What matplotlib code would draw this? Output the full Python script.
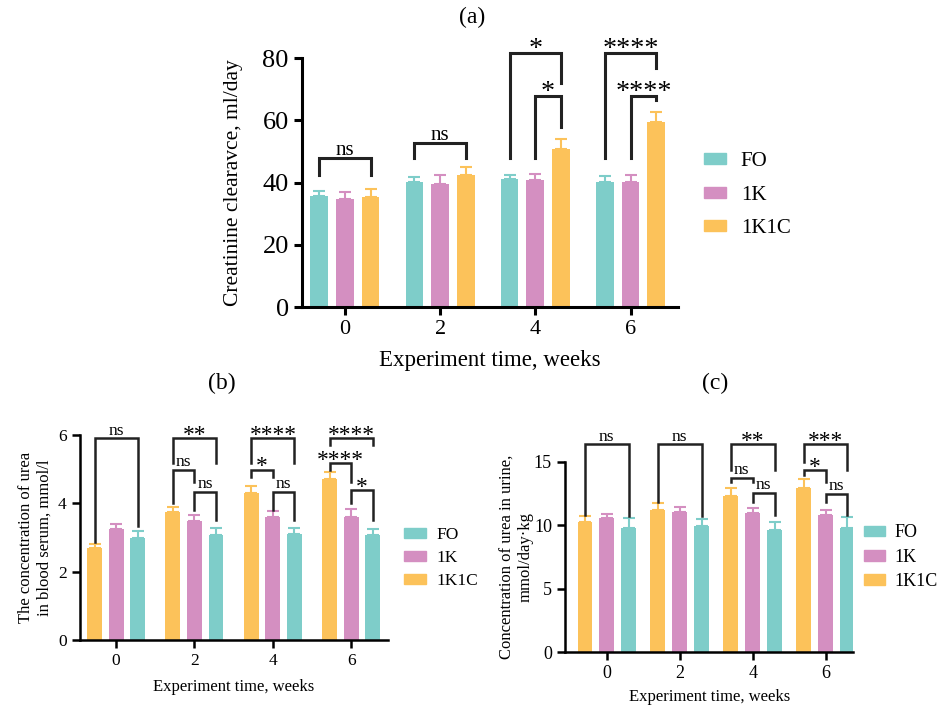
import matplotlib
matplotlib.use("Agg")
import matplotlib.pyplot as plt
from matplotlib.patches import Patch
import numpy as np

plt.rcParams['font.family'] = ['Liberation Serif', 'DejaVu Serif']

weeks = ['0', '2', '4', '6']
groups = ['FO', '1K', '1K1C']
colors = {'FO': '#7ecdc9', '1K': '#d48fc1', '1K1C': '#fcc25a'}

# (a) creatinine clearance
clear_mean = {'FO': [35.8, 40.2, 41.1, 40.1],
              '1K': [34.8, 39.7, 40.7, 40.1],
              '1K1C': [35.3, 42.3, 50.9, 59.4]}
clear_err = {'FO': [1.6, 1.7, 1.4, 2.0],
             '1K': [2.3, 2.7, 2.2, 2.4],
             '1K1C': [2.6, 2.6, 3.0, 3.2]}

# (b) urea in blood serum
serum_mean = {'1K1C': [2.70, 3.73, 4.29, 4.71],
              '1K': [3.24, 3.48, 3.59, 3.61],
              'FO': [2.99, 3.07, 3.09, 3.06]}
serum_err = {'1K1C': [0.11, 0.15, 0.20, 0.20],
             '1K': [0.15, 0.18, 0.18, 0.22],
             'FO': [0.20, 0.20, 0.18, 0.18]}

# (c) urea in urine
urine_mean = {'1K1C': [10.23, 11.25, 12.33, 12.96],
              '1K': [10.57, 11.09, 10.99, 10.78],
              'FO': [9.81, 9.94, 9.60, 9.83]}
urine_err = {'1K1C': [0.52, 0.53, 0.63, 0.68],
             '1K': [0.29, 0.37, 0.39, 0.42],
             'FO': [0.79, 0.60, 0.68, 0.84]}

# significance brackets: (week index, bar i, bar j, y, left leg end, right leg end, label)
sig_a = [(0, 0, 2, 47.8, 42.4, 42.4, 'ns'),
         (1, 0, 2, 52.6, 47.8, 47.8, 'ns'),
         (2, 0, 2, 81.6, 47.8, 72.0, '*'),
         (2, 1, 2, 67.9, 47.8, 58.0, '*'),
         (3, 0, 2, 81.6, 47.8, 76.8, '****'),
         (3, 1, 2, 67.9, 47.8, 66.4, '****')]
sig_b = [(0, 0, 2, 5.90, 2.88, 3.32, 'ns'),
         (1, 0, 2, 5.90, 5.17, 5.17, '**'),
         (1, 0, 1, 4.98, 4.00, 4.63, 'ns'),
         (1, 1, 2, 4.34, 3.80, 3.51, 'ns'),
         (2, 0, 2, 5.90, 5.17, 5.17, '****'),
         (2, 0, 1, 4.98, 4.78, 4.78, '*'),
         (2, 1, 2, 4.34, 3.80, 3.51, 'ns'),
         (3, 0, 2, 5.90, 5.71, 5.71, '****'),
         (3, 0, 1, 5.17, 4.98, 4.63, '****'),
         (3, 1, 2, 4.39, 4.00, 3.51, '*')]
sig_c = [(0, 0, 2, 16.4, 10.8, 10.7, 'ns'),
         (1, 0, 2, 16.4, 11.85, 10.7, 'ns'),
         (2, 0, 2, 16.4, 14.35, 14.35, '**'),
         (2, 0, 1, 13.77, 13.43, 13.43, 'ns'),
         (2, 1, 2, 12.56, 11.85, 10.8, 'ns'),
         (3, 0, 2, 16.4, 15.0, 14.35, '***'),
         (3, 0, 1, 14.35, 13.95, 13.43, '*'),
         (3, 1, 2, 12.51, 11.85, 10.8, 'ns')]


def draw_panel(ax, order, means, errs, offset, width, lw, sigs, sig_fs, tick_fs):
    x = np.arange(len(weeks))
    for i, g in enumerate(order):
        xs = x + (i - 1) * offset
        ax.bar(xs, means[g], width, color=colors[g], zorder=2)
        ax.errorbar(xs, means[g], yerr=[np.zeros(len(weeks)), errs[g]], fmt='none',
                    ecolor=colors[g], elinewidth=1.5, capsize=4, capthick=1.5, zorder=1)
    for w, i, j, y, y1, y2, lab in sigs:
        x1 = w + (i - 1) * offset
        x2 = w + (j - 1) * offset
        ax.plot([x1, x1, x2, x2], [y1, y, y, y2], color='#222222', lw=lw,
                clip_on=False, solid_joinstyle='miter')
        if lab == 'ns':
            ax.annotate(lab, ((x1 + x2) / 2, y), xytext=(0, 2.5), textcoords='offset points',
                        ha='center', va='baseline', fontsize=sig_fs, annotation_clip=False)
        else:
            ax.annotate(lab, ((x1 + x2) / 2, y), xytext=(0, -2), textcoords='offset points',
                        ha='center', va='baseline', fontsize=sig_fs * 1.35,
                        annotation_clip=False)
    ax.set_xticks(x)
    ax.set_xticklabels(weeks)
    for s in ['top', 'right']:
        ax.spines[s].set_visible(False)
    for s in ['left', 'bottom']:
        ax.spines[s].set_linewidth(lw)
    ax.tick_params(width=lw, length=6, labelsize=tick_fs)


fig = plt.figure(figsize=(9.45, 7.05), dpi=100)

fig.text(472 / 945, 1 - 17 / 705, '(a)', fontsize=17, ha='center', va='center')
fig.text(222 / 945, 1 - 383 / 705, '(b)', fontsize=17, ha='center', va='center')
fig.text(715 / 945, 1 - 383 / 705, '(c)', fontsize=17, ha='center', va='center')

# panel (a)
ax1 = fig.add_axes([0.3196, 0.5645, 0.398, 0.353])
draw_panel(ax1, groups, clear_mean, clear_err, 0.27, 0.185, 2.2, sig_a, 15, 16)
ax1.tick_params(axis='y', labelsize=19)
ax1.set_xlim(-0.45, 3.5)
ax1.set_ylim(0, 80)
ax1.set_yticks([0, 20, 40, 60, 80])
ax1.set_ylabel('Creatinine clearavce, ml/day', fontsize=15.5, labelpad=14)
ax1.set_xlabel('Experiment time, weeks', fontsize=16.5, labelpad=8)
ax1.legend(handles=[Patch(color=colors[g], label=g) for g in groups],
           loc='center left', bbox_to_anchor=(1.02, 0.45), frameon=False,
           fontsize=15, handlelength=1.05, handleheight=0.45,
           handletextpad=0.7, labelspacing=0.7)

order_bc = ['1K1C', '1K', 'FO']

# panel (b)
ax2 = fig.add_axes([0.0847, 0.0922, 0.326, 0.291])
draw_panel(ax2, order_bc, serum_mean, serum_err, 0.275, 0.19, 1.8, sig_b, 12.5, 12.5)
ax2.set_xlim(-0.46, 3.47)
ax2.set_ylim(0, 6)
ax2.set_yticks([0, 2, 4, 6])
ax2.set_ylabel('The concentration of urea\nin blood serum, mmol/l', fontsize=12)
ax2.set_xlabel('Experiment time, weeks', fontsize=12, labelpad=7)
ax2.legend(handles=[Patch(color=colors[g], label=g) for g in groups],
           loc='center left', bbox_to_anchor=(1.0, 0.40), frameon=False,
           fontsize=12.5, handlelength=1.3, handleheight=0.55,
           handletextpad=0.6, labelspacing=0.4)

# panel (c)
ax3 = fig.add_axes([0.598, 0.0748, 0.305, 0.27])
draw_panel(ax3, order_bc, urine_mean, urine_err, 0.3, 0.2, 1.8, sig_c, 12.5, 13)
ax3.set_xlim(-0.57, 3.38)
ax3.set_ylim(0, 15)
ax3.set_yticks([0, 5, 10, 15])
ax3.set_ylabel('Concentration of urea in urine,\nmmol/day\u00b7kg', fontsize=12, labelpad=0)
ax3.set_xlabel('Experiment time, weeks', fontsize=12, labelpad=5)
ax3.legend(handles=[Patch(color=colors[g], label=g) for g in groups],
           loc='center left', bbox_to_anchor=(0.98, 0.50), frameon=False,
           fontsize=13, handlelength=1.2, handleheight=0.55,
           handletextpad=0.5, labelspacing=0.4)

fig.savefig('out.png', dpi=100)
